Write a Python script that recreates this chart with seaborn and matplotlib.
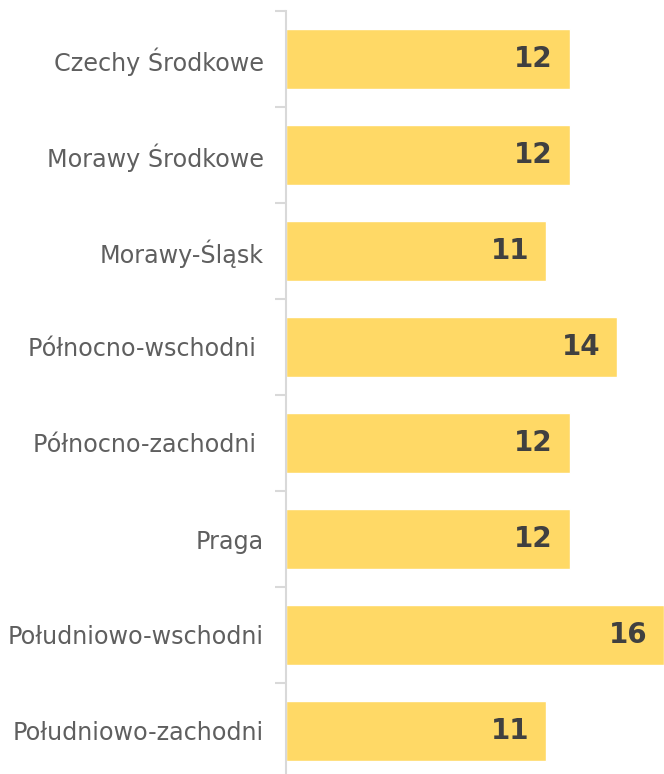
import numpy as np
import pandas as pd
import seaborn as sns
from matplotlib import pyplot as plt
from matplotlib.ticker import FixedLocator

regions = ['Czechy Środkowe', 'Morawy Środkowe', 'Morawy-Śląsk', 'Północno-wschodni ',
           'Północno-zachodni ', 'Praga', 'Południowo-wschodni', 'Południowo-zachodni']
values = [12, 12, 11, 14, 12, 12, 16, 11]

sns.set_style('white')
plt.rcParams['font.family'] = ['DejaVu Sans']

df = pd.DataFrame({'region': regions, 'value': values})

fig = plt.figure(figsize=(6.64, 7.74), dpi=100)
ax = fig.add_axes([286/664, -5/774, 1 - 286/664, 768/774])

sns.barplot(data=df, x='value', y='region', orient='h', color='#FFD966',
            saturation=1, width=0.625, ax=ax)

ax.set_xlim(0, 16)
ax.set_ylim(7.5, -0.5)
ax.set_xlabel('')
ax.set_ylabel('')
ax.set_xticks([])

for s in ['top', 'right', 'bottom']:
    ax.spines[s].set_visible(False)
ax.spines['left'].set_color('#d9d9d9')
ax.spines['left'].set_linewidth(1.5)

# labels sit at bar centres, ticks at the category boundaries
ax.yaxis.set_minor_locator(FixedLocator(np.arange(-0.5, 8, 1)))
ax.tick_params(axis='y', which='major', length=0, pad=16, labelsize=17.2, labelcolor='#5f5f5f')
ax.tick_params(axis='y', which='minor', length=8, width=1.5, color='#d9d9d9', left=True)

for i, v in enumerate(values):
    ax.text(v - 0.7, i, str(v), ha='right', va='center', fontsize=20,
            fontweight='bold', color='#404040')

fig.savefig('out.png', dpi=100)
